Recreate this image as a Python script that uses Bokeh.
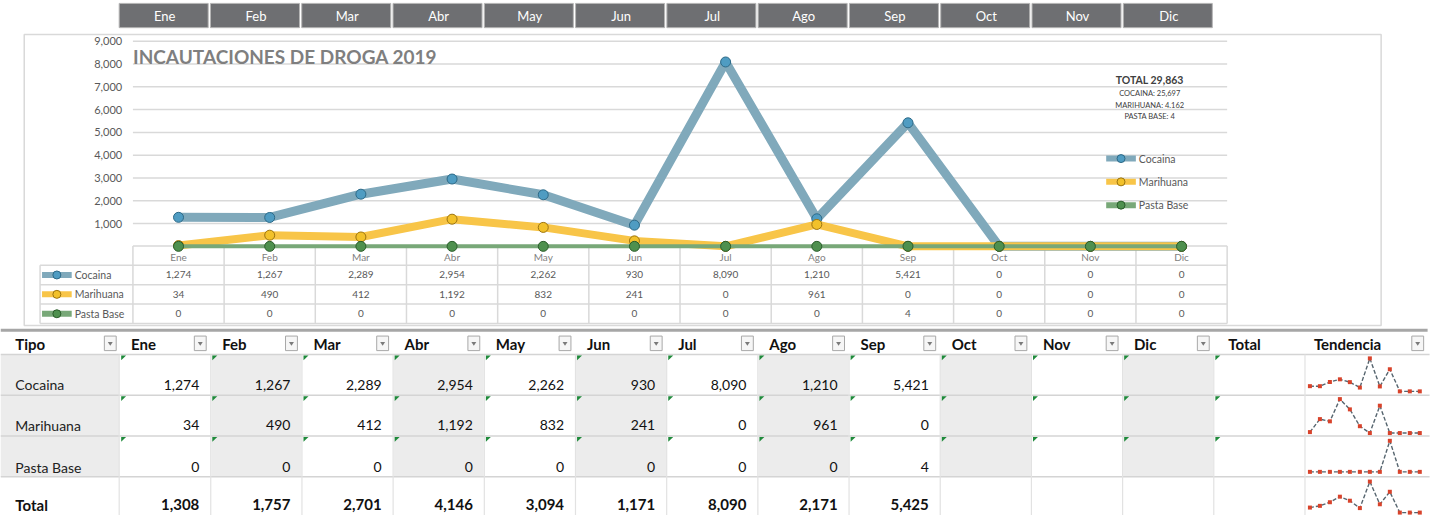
from bokeh.plotting import figure
from bokeh.models import Range1d
from bokeh.core.properties import value
from bokeh.embed import file_html
from bokeh.resources import INLINE

# ---------------- data ----------------
months = ["Ene", "Feb", "Mar", "Abr", "May", "Jun", "Jul", "Ago", "Sep", "Oct", "Nov", "Dic"]
cocaina = [1274, 1267, 2289, 2954, 2262, 930, 8090, 1210, 5421, 0, 0, 0]
marihuana = [34, 490, 412, 1192, 832, 241, 0, 961, 0, 0, 0, 0]
pasta_base = [0, 0, 0, 0, 0, 0, 0, 0, 4, 0, 0, 0]
totales = [1308, 1757, 2701, 4146, 3094, 1171, 8090, 2171, 5425, 0, 0, 0]
series_names = ["Cocaina", "Marihuana", "Pasta Base"]
reported_months = 9
y_ticks = [1000, 2000, 3000, 4000, 5000, 6000, 7000, 8000, 9000]
y_tick_labels = ["1,000", "2,000", "3,000", "4,000", "5,000", "6,000", "7,000", "8,000", "9,000"]
title = "INCAUTACIONES DE DROGA 2019"
summary_lines = ["TOTAL 29,863", "COCAINA: 25,697", "MARIHUANA: 4.162", "PASTA BASE: 4"]
table_headers = ["Tipo"] + months + ["Total", "Tendencia"]
total_label = "Total"

# ---------------- layout (reference pixel space) ----------------
REF_W, REF_H = 1453, 531
FIG_W, FIG_H = 1437, 515
FONT = "Lato"

M_X0, M_DX = 180.0, 92.2      # main chart: x of first month, spacing
V_Y0, V_K = 253.5, 0.0235     # main chart: y of value 0, px per unit
SP_X0, SP_DX = 1324.0, 10.1   # sparkline x
T_L0, T_DX, T_CW = 121.0, 92.2, 91.0   # bottom table columns

p = figure(width=FIG_W, height=FIG_H, x_range=Range1d(0, REF_W), y_range=Range1d(REF_H, 0),
           output_backend="svg", toolbar_location=None, min_border=0,
           x_axis_location=None, y_axis_location=None)
p.outline_line_color = None
p.background_fill_color = "white"
p.border_fill_color = "white"
p.xgrid.visible = False
p.ygrid.visible = False

p.extra_x_ranges = {
    "mx": Range1d(-M_X0 / M_DX, (REF_W - M_X0) / M_DX),
    "sx": Range1d(-SP_X0 / SP_DX, (REF_W - SP_X0) / SP_DX),
}
p.extra_y_ranges = {"vy": Range1d((V_Y0 - REF_H) / V_K, V_Y0 / V_K)}

spark_rows = [(cocaina, 403.0, 34.0), (marihuana, 446.0, 35.0), (pasta_base, 486.0, 32.0), (totales, 528.0, 32.0)]
for r, (vals, y0, h) in enumerate(spark_rows):
    sc = max(vals) / h
    p.extra_y_ranges["s%d" % r] = Range1d((y0 - REF_H) * sc, y0 * sc)


def txt(xs, ys, ts, size="11px", color="#595959", align="left", style="normal", **kw):
    p.text(x=list(xs), y=list(ys), text=list(ts), text_font=value(FONT), text_font_size=size,
           text_color=color, text_align=align, text_baseline="middle", text_font_style=style, **kw)


# ---------------- top month header bar ----------------
HB_X0, HB_DX = 120.0, 92.3
p.quad(left=[HB_X0 + HB_DX * k for k in range(12)], right=[HB_X0 + HB_DX * k + 90 for k in range(12)],
       top=[3] * 12, bottom=[28] * 12, fill_color="#6e6f72", line_color="#b5b5b5", line_width=1)
txt([HB_X0 + HB_DX * k + 46 for k in range(12)], [16] * 12, months, size="13px", color="white", align="center")

# ---------------- chart box ----------------
p.quad(left=[24], right=[1396], top=[35], bottom=[335], fill_color="white", line_color="#d9d9d9", line_width=1.5)

# gridlines + y labels
p.segment(x0=[-0.5] * len(y_ticks), x1=[11.5] * len(y_ticks), y0=y_ticks, y1=y_ticks,
          x_range_name="mx", y_range_name="vy", line_color="#d9d9d9", line_width=1.5)
txt([123] * len(y_ticks), y_ticks, y_tick_labels, size="11px", color="#595959", align="right", y_range_name="vy")

# title
txt([134], [58], [title], size="19px", color="#7f7f7f", style="bold")

# inner data table grid
p.segment(x0=[-0.5], x1=[11.5], y0=[253], y1=[253], x_range_name="mx", line_color="#d9d9d9", line_width=1.5)
row_lines = [273, 293, 313, 333]
p.segment(x0=[40] * 4, x1=[M_X0 + 11.5 * M_DX] * 4, y0=row_lines, y1=row_lines, line_color="#d9d9d9", line_width=1.5)
p.segment(x0=[k - 0.5 for k in range(13)], x1=[k - 0.5 for k in range(13)], y0=[253] * 13, y1=[333] * 13,
          x_range_name="mx", line_color="#d9d9d9", line_width=1.5)
p.segment(x0=[40], x1=[40], y0=[273], y1=[333], line_color="#d9d9d9", line_width=1.5)

# month labels in inner table
txt(range(12), [264] * 12, months, size="10px", color="#7f7f7f", align="center", x_range_name="mx")

line_cols = ["#80a9bb", "#f8c548", "#78a878"]
line_ws = [9, 8, 4]
mk_fill = ["#4f9cc2", "#f2c12a", "#4e904e"]
mk_line = ["#2d6a88", "#9c7410", "#2b5d2b"]
all_series = [cocaina, marihuana, pasta_base]

# values in inner table
for r, vals in enumerate(all_series):
    yr = 283 + 20 * r
    txt(range(12), [yr] * 12, ["{:,}".format(v) for v in vals], size="10px", color="#595959",
        align="center", x_range_name="mx")
    p.segment(x0=[42], x1=[72], y0=[yr], y1=[yr], line_color=line_cols[r], line_width=6)
    p.scatter(x=[57], y=[yr], size=8, fill_color=mk_fill[r], line_color=mk_line[r], line_width=1)
    txt([75], [yr], [series_names[r]], size="10.5px", color="#595959")

# series lines
xs = list(range(12))
for r, vals in enumerate(all_series):
    p.line(x=xs, y=vals, x_range_name="mx", y_range_name="vy", line_color=line_cols[r],
           line_width=line_ws[r], line_join="round", line_cap="round")
    p.scatter(x=xs, y=vals, x_range_name="mx", y_range_name="vy", size=10,
              fill_color=mk_fill[r], line_color=mk_line[r], line_width=1)

# right legend
for r in range(3):
    yr = 163 + 24 * r
    p.segment(x0=[1118], x1=[1148], y0=[yr], y1=[yr], line_color=line_cols[r], line_width=6)
    p.scatter(x=[1133], y=[yr], size=8, fill_color=mk_fill[r], line_color=mk_line[r], line_width=1)
    txt([1151], [yr], [series_names[r]], size="10.5px", color="#595959")

# summary text
txt([1162], [82], [summary_lines[0]], size="10.5px", color="#404040", align="center", style="bold")
txt([1162] * 3, [96, 108, 120], summary_lines[1:], size="7.5px", color="#404040", align="center")

# ---------------- bottom table ----------------
L = [T_L0 + T_DX * k for k in range(13)]  # 12 months + Total
p.segment(x0=[0], x1=[1443], y0=[340], y1=[340], line_color="#a6a6a6", line_width=3)

# grey cells
gl, gr = [0], [120]
for k in range(12):
    if k % 2 == 1:
        gl.append(L[k])
        gr.append(L[k] + T_CW)
for row in range(3):
    top = 365 + 42 * row
    p.quad(left=gl, right=gr, top=[top] * len(gl), bottom=[top + 42] * len(gl),
           fill_color="#ececec", line_color=None)

# row lines
hl = [365, 407, 449, 491]
p.segment(x0=[0] * 4, x1=[1445] * 4, y0=hl, y1=hl, line_color="#d4d4d4", line_width=1.5)
vx = [120] + [l + T_CW + 0.6 for l in L]
p.segment(x0=vx, x1=vx, y0=[365] * len(vx), y1=[531] * len(vx), line_color="#e2e2e2", line_width=1.2)

# header texts
hx = [15] + [l + 11 for l in L[:12]] + [L[12] + 14, 1328]
txt(hx, [354] * len(hx), table_headers, size="15px", color="#111111", style="bold")

# dropdown buttons
bx = [105] + [l + 75 for l in L[:12]] + [1427]
p.quad(left=bx, right=[b + 12 for b in bx], top=[346] * len(bx), bottom=[361] * len(bx),
       fill_color="#f6f6f6", line_color="#a8a8a8", line_width=1)
p.patches(xs=[[b + 3.5, b + 8.5, b + 6] for b in bx], ys=[[352, 352, 356] for b in bx],
          fill_color="#7a7a7a", line_color=None)

# green triangles
tri_x, tri_y = [], []
for row in range(3):
    top = 366 + 42 * row
    for k in range(13):
        tri_x.append([L[k] + 1, L[k] + 6, L[k] + 1])
        tri_y.append([top, top, top + 5])
p.patches(xs=tri_x, ys=tri_y, fill_color="#1f8a3b", line_color=None)

# row labels & values
row_y = [396, 438, 481]
txt([15] * 3, row_y, series_names, size="14px", color="#222222")
for r, vals in enumerate(all_series):
    txt([L[k] + 80 for k in range(reported_months)], [row_y[r]] * reported_months,
        ["{:,}".format(v) for v in vals[:reported_months]], size="14px", color="#111111", align="right")
txt([15], [520], [total_label], size="15px", color="#111111", style="bold")
txt([L[k] + 80 for k in range(reported_months)], [520] * reported_months,
    ["{:,}".format(v) for v in totales[:reported_months]], size="15px", color="#111111", align="right", style="bold")

# sparklines
for r, (vals, y0, h) in enumerate(spark_rows):
    p.line(x=xs, y=vals, x_range_name="sx", y_range_name="s%d" % r, line_color="#56656f",
           line_width=1.4, line_dash="4 2")
    p.scatter(x=xs, y=vals, x_range_name="sx", y_range_name="s%d" % r, marker="square", size=4,
              fill_color="#d8432b", line_color=None)

open("out.html", "w").write(file_html(p, INLINE))
